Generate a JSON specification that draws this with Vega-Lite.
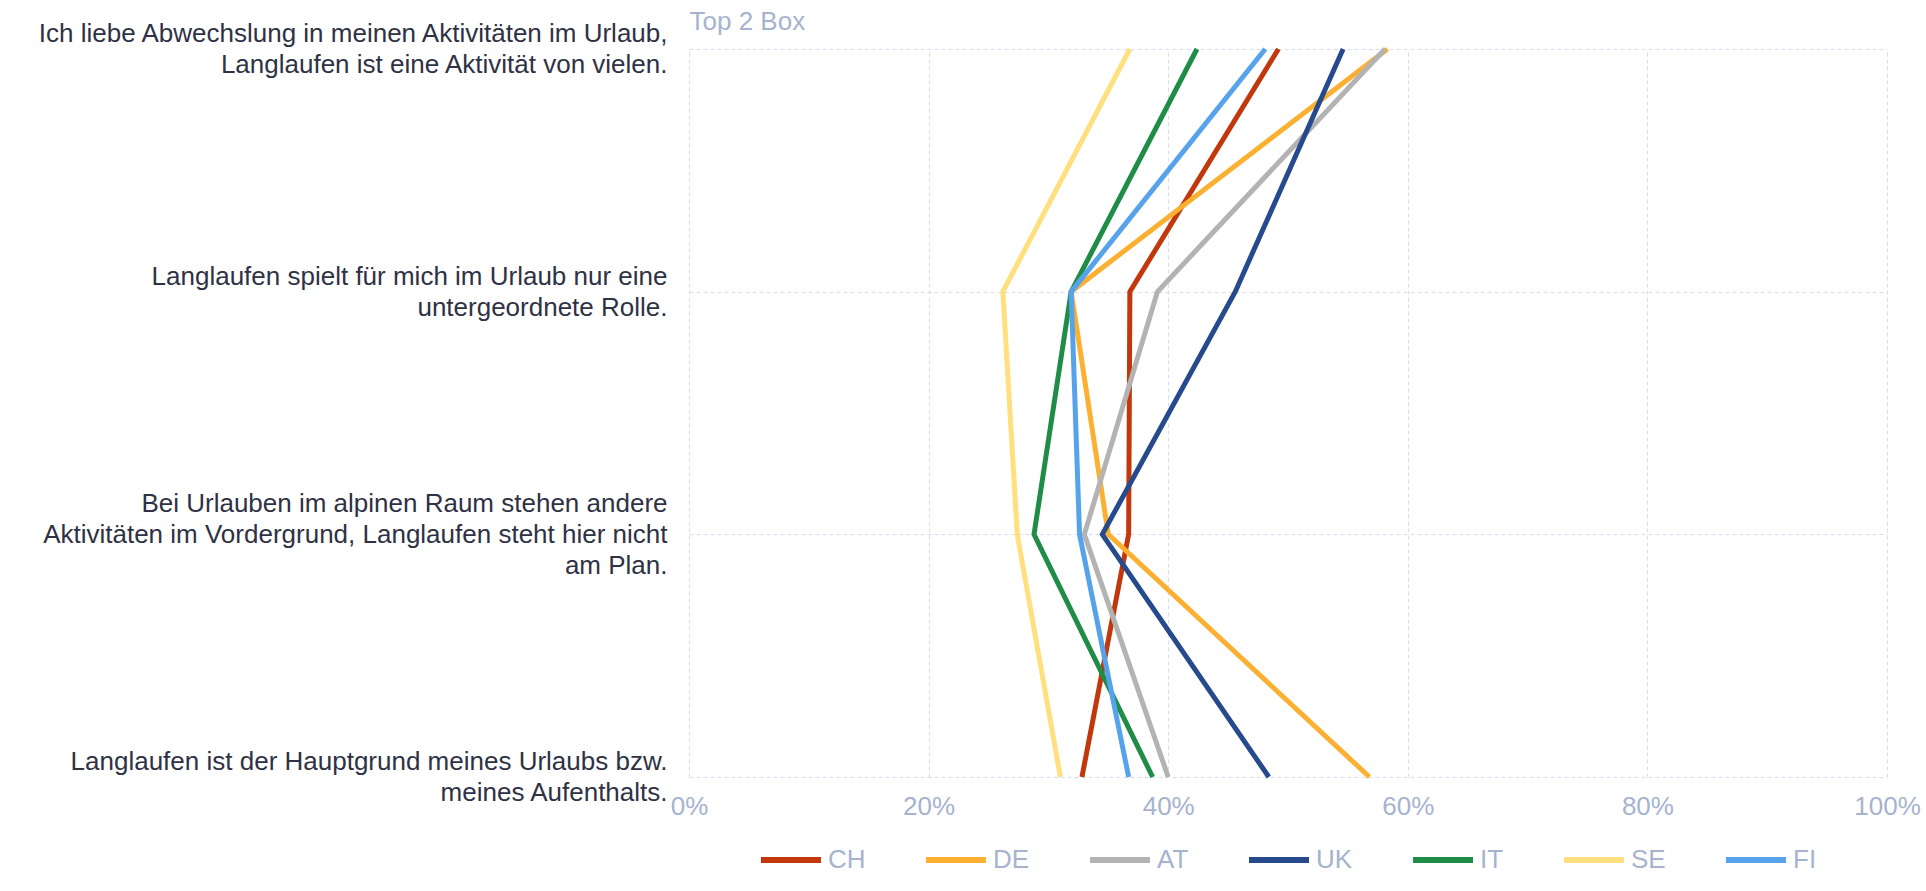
{
  "$schema": "https://vega.github.io/schema/vega-lite/v6.json",
  "width": 1198,
  "height": 728,
  "autosize": {"type": "none"},
  "padding": {"left": 689, "top": 49, "right": 39, "bottom": 114},
  "background": "white",
  "config": {
    "view": {"stroke": null},
    "font": "Liberation Sans"
  },
  "data": {
    "values": [
      {"country": "CH", "q": 1, "statement": "Ich liebe Abwechslung in meinen Aktivitäten im Urlaub,|Langlaufen ist eine Aktivität von vielen.", "value": 0.492},
      {"country": "CH", "q": 2, "statement": "Langlaufen spielt für mich im Urlaub nur eine|untergeordnete Rolle.", "value": 0.368},
      {"country": "CH", "q": 3, "statement": "Bei Urlauben im alpinen Raum stehen andere|Aktivitäten im Vordergrund, Langlaufen steht hier nicht|am Plan.", "value": 0.367},
      {"country": "CH", "q": 4, "statement": "Langlaufen ist der Hauptgrund meines Urlaubs bzw.|meines Aufenthalts.", "value": 0.328},
      {"country": "DE", "q": 1, "statement": "Ich liebe Abwechslung in meinen Aktivitäten im Urlaub,|Langlaufen ist eine Aktivität von vielen.", "value": 0.583},
      {"country": "DE", "q": 2, "statement": "Langlaufen spielt für mich im Urlaub nur eine|untergeordnete Rolle.", "value": 0.319},
      {"country": "DE", "q": 3, "statement": "Bei Urlauben im alpinen Raum stehen andere|Aktivitäten im Vordergrund, Langlaufen steht hier nicht|am Plan.", "value": 0.35},
      {"country": "DE", "q": 4, "statement": "Langlaufen ist der Hauptgrund meines Urlaubs bzw.|meines Aufenthalts.", "value": 0.568},
      {"country": "AT", "q": 1, "statement": "Ich liebe Abwechslung in meinen Aktivitäten im Urlaub,|Langlaufen ist eine Aktivität von vielen.", "value": 0.581},
      {"country": "AT", "q": 2, "statement": "Langlaufen spielt für mich im Urlaub nur eine|untergeordnete Rolle.", "value": 0.391},
      {"country": "AT", "q": 3, "statement": "Bei Urlauben im alpinen Raum stehen andere|Aktivitäten im Vordergrund, Langlaufen steht hier nicht|am Plan.", "value": 0.33},
      {"country": "AT", "q": 4, "statement": "Langlaufen ist der Hauptgrund meines Urlaubs bzw.|meines Aufenthalts.", "value": 0.40},
      {"country": "UK", "q": 1, "statement": "Ich liebe Abwechslung in meinen Aktivitäten im Urlaub,|Langlaufen ist eine Aktivität von vielen.", "value": 0.546},
      {"country": "UK", "q": 2, "statement": "Langlaufen spielt für mich im Urlaub nur eine|untergeordnete Rolle.", "value": 0.456},
      {"country": "UK", "q": 3, "statement": "Bei Urlauben im alpinen Raum stehen andere|Aktivitäten im Vordergrund, Langlaufen steht hier nicht|am Plan.", "value": 0.345},
      {"country": "UK", "q": 4, "statement": "Langlaufen ist der Hauptgrund meines Urlaubs bzw.|meines Aufenthalts.", "value": 0.484},
      {"country": "IT", "q": 1, "statement": "Ich liebe Abwechslung in meinen Aktivitäten im Urlaub,|Langlaufen ist eine Aktivität von vielen.", "value": 0.424},
      {"country": "IT", "q": 2, "statement": "Langlaufen spielt für mich im Urlaub nur eine|untergeordnete Rolle.", "value": 0.319},
      {"country": "IT", "q": 3, "statement": "Bei Urlauben im alpinen Raum stehen andere|Aktivitäten im Vordergrund, Langlaufen steht hier nicht|am Plan.", "value": 0.288},
      {"country": "IT", "q": 4, "statement": "Langlaufen ist der Hauptgrund meines Urlaubs bzw.|meines Aufenthalts.", "value": 0.387},
      {"country": "SE", "q": 1, "statement": "Ich liebe Abwechslung in meinen Aktivitäten im Urlaub,|Langlaufen ist eine Aktivität von vielen.", "value": 0.368},
      {"country": "SE", "q": 2, "statement": "Langlaufen spielt für mich im Urlaub nur eine|untergeordnete Rolle.", "value": 0.262},
      {"country": "SE", "q": 3, "statement": "Bei Urlauben im alpinen Raum stehen andere|Aktivitäten im Vordergrund, Langlaufen steht hier nicht|am Plan.", "value": 0.274},
      {"country": "SE", "q": 4, "statement": "Langlaufen ist der Hauptgrund meines Urlaubs bzw.|meines Aufenthalts.", "value": 0.31},
      {"country": "FI", "q": 1, "statement": "Ich liebe Abwechslung in meinen Aktivitäten im Urlaub,|Langlaufen ist eine Aktivität von vielen.", "value": 0.481},
      {"country": "FI", "q": 2, "statement": "Langlaufen spielt für mich im Urlaub nur eine|untergeordnete Rolle.", "value": 0.319},
      {"country": "FI", "q": 3, "statement": "Bei Urlauben im alpinen Raum stehen andere|Aktivitäten im Vordergrund, Langlaufen steht hier nicht|am Plan.", "value": 0.326},
      {"country": "FI", "q": 4, "statement": "Langlaufen ist der Hauptgrund meines Urlaubs bzw.|meines Aufenthalts.", "value": 0.367}
    ]
  },
  "mark": {"type": "line", "strokeWidth": 5, "strokeJoin": "miter"},
  "encoding": {
    "x": {
      "field": "value",
      "type": "quantitative",
      "scale": {"domain": [0, 1], "nice": false, "zero": true},
      "axis": {
        "title": null,
        "values": [0, 0.2, 0.4, 0.6, 0.8, 1],
        "format": ".0%",
        "domain": false,
        "ticks": false,
        "grid": true,
        "gridColor": "#D8DCF2",
        "gridDash": [4, 3],
        "gridWidth": 1,
        "labelFont": "Liberation Sans",
        "labelFontSize": 26,
        "labelColor": "#A6B3CF",
        "labelPadding": 16,
        "labelFlush": false
      }
    },
    "y": {
      "field": "statement",
      "type": "nominal",
      "sort": {"field": "q", "op": "min"},
      "scale": {"type": "point", "padding": 0},
      "axis": {
        "title": "Top 2 Box",
        "titleAngle": 0,
        "titleAlign": "left",
        "titleBaseline": "alphabetic",
        "titleX": 0,
        "titleY": -20,
        "titleFont": "Liberation Sans",
        "titleFontSize": 26,
        "titleFontWeight": "normal",
        "titleColor": "#A6B3CF",
        "labelExpr": "split(datum.label, '|')",
        "labelFont": "Liberation Sans",
        "labelFontSize": 26,
        "labelLineHeight": 31,
        "labelColor": "#2F3244",
        "labelPadding": 22,
        "labelLimit": 800,
        "labelOffset": {
          "condition": {"test": "indexof(datum.value, 'Bei Urlauben') >= 0", "value": -31},
          "value": -15.5
        },
        "domain": false,
        "ticks": false,
        "grid": true,
        "gridColor": "#D8DCF2",
        "gridDash": [4, 3],
        "gridWidth": 1
      }
    },
    "color": {
      "field": "country",
      "type": "nominal",
      "scale": {
        "domain": ["CH", "DE", "AT", "UK", "IT", "SE", "FI"],
        "range": ["#C3370C", "#FBB032", "#B3B3B3", "#264A8C", "#1F8C47", "#FFDF7E", "#56A3EB"]
      },
      "legend": {
        "title": null,
        "orient": "none",
        "direction": "horizontal",
        "legendX": 69,
        "legendY": 778,
        "symbolType": "stroke",
        "symbolSize": 3600,
        "symbolStrokeWidth": 6,
        "labelFont": "Liberation Sans",
        "labelFontSize": 26,
        "labelColor": "#A6B3CF",
        "labelOffset": 4,
        "columnPadding": 48,
        "labelLimit": 200
      }
    },
    "order": {"field": "q", "type": "quantitative"}
  }
}
